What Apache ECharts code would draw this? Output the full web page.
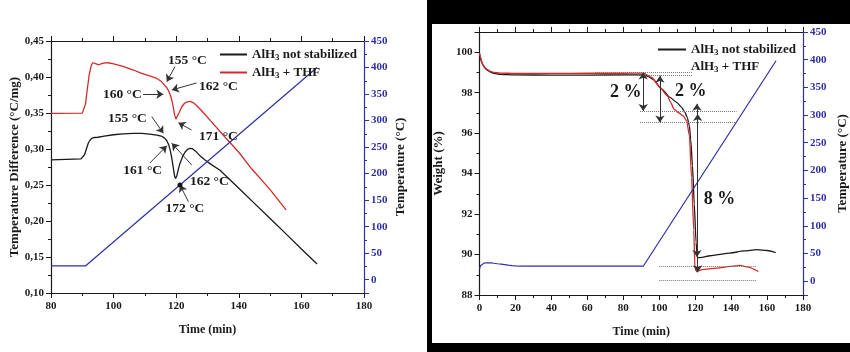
<!DOCTYPE html>
<html>
<head>
<meta charset="utf-8">
<script src="https://cdn.jsdelivr.net/npm/echarts@6/dist/echarts.min.js"></script>
<style>
  html, body { margin:0; padding:0; background:#fff; }
  #frame { position:absolute; left:427px; top:0; width:423px; height:352px; background:#000; }
  #inner { position:absolute; left:432px; top:24px; width:418px; height:319px; background:#fff; }
  #chart { position:absolute; left:0; top:0; width:850px; height:352px; }
</style>
</head>
<body>
<div id="frame"></div>
<div id="inner"></div>
<div id="chart"></div>
<script>
// ---------- DATA ----------
// DSC (left panel): time (min) vs temperature difference (°C/mg)
const dscNotStabilized = [
  [80,0.285],[89.6,0.2862],[90.2,0.2875],[90.7,0.292],[91.3,0.300],[91.9,0.308],[92.5,0.3125],
  [93.2,0.3152],[94,0.316],[95,0.3163],[97,0.3178],[100,0.3198],[103,0.321],[106.3,0.3218],
  [109,0.3216],[111.5,0.3207],[113.8,0.3194],[115.2,0.318],[116.2,0.3155],[117,0.3115],
  [117.6,0.306],[118.1,0.298],[118.6,0.287],[119.1,0.273],[119.5,0.262],[119.8,0.259],
  [120.2,0.263],[120.7,0.272],[121.2,0.28],[122,0.289],[122.8,0.2955],[123.6,0.2995],
  [124.4,0.3008],[125.2,0.3005],[126.2,0.297],[127.6,0.2905],[129,0.2855],[131,0.279],
  [134,0.2705],[140,0.2455],[145,0.2245],[150,0.2035],[155,0.1825],[160,0.1612],[165,0.1403]
];
const dscTHF = [
  [80,0.3496],[90,0.3498],[90.5,0.352],[91,0.362],[91.6,0.383],[92.2,0.403],[92.8,0.415],
  [93.3,0.4198],[93.7,0.4203],[94.2,0.4185],[94.7,0.4168],[95.3,0.417],[96.2,0.4185],
  [97.2,0.4197],[98.2,0.4198],[100,0.4183],[103,0.4148],[106.3,0.4097],[109,0.405],
  [112,0.401],[113.8,0.398],[115.2,0.394],[116.2,0.389],[117,0.385],[117.6,0.3805],
  [118.2,0.374],[118.7,0.366],[119.1,0.357],[119.5,0.347],[119.9,0.3415],[120.4,0.3435],
  [121,0.351],[121.7,0.358],[122.6,0.3632],[123.5,0.3655],[124.4,0.366],[125.4,0.3645],
  [126.5,0.3605],[127.6,0.3555],[129,0.349],[131,0.339],[135,0.3195],[140,0.2955],
  [144.1,0.2725],[150,0.2435],[155.1,0.2155]
];
const dscTemperature = [[80,26],[91,26],[165,400]];

// TGA (right panel): time (min) vs weight (%)
const tgaNotStabilized = [
  [0,99.92],[0.5,99.72],[1.2,99.5],[2,99.35],[3,99.22],[4,99.13],[5.8,99.03],[8,98.96],
  [11.4,98.91],[20,98.88],[40,98.87],[60,98.87],[80,98.88],[91.2,98.88],[94,98.8],[96.7,98.65],
  [101.4,98.18],[106,97.77],[109.7,97.52],[112.5,97.27],[114.4,97.02],[115.6,96.77],[116.8,96.36],
  [117.5,95.7],[118.5,94.4],[119.5,92.5],[120.5,90.6],[121.2,89.85],[123,89.85],[128.3,89.94],
  [139.4,90.07],[147,90.18],[154.3,90.24],[160,90.2],[164.8,90.1]
];
const tgaTHF = [
  [0,99.95],[0.5,99.78],[1.2,99.55],[2,99.38],[3,99.25],[4,99.16],[5.8,99.07],[8,99.0],
  [11.4,98.97],[20,98.95],[40,98.95],[60,98.96],[80,98.96],[91.2,98.97],[95.8,98.76],
  [100.4,98.26],[104.5,97.85],[106.4,97.52],[108.2,97.19],[110.6,97.02],[113.4,96.85],
  [115.3,96.6],[116.8,95.86],[118.0,93.8],[119.2,91.2],[119.9,89.3],[120.9,89.16],
  [123.6,89.25],[132,89.33],[139.4,89.41],[145,89.46],[149.6,89.38],[155.2,89.16]
];
const tgaTemperature = [
  [0,22],[0.3,25.5],[0.6,28],[1,30],[1.5,31.5],[2.5,32.6],[4,33.2],[5,33.3],[6.5,33],[8,32.3],
  [10,31.4],[12,30.6],[14,29.8],[16,28.8],[18,28],[20,27.5],[23,27.3],[91.2,27.3],[165,398]
];

// annotation texts
const dscLabelTexts = ['155 °C','162 °C','160 °C','171 °C','155 °C','161 °C','162 °C','172 °C'];
const tgaLabelTexts = ['2 %','2 %','8 %'];
const seriesNames = ['AlH3 not stabilized','AlH3 + THF'];

// ---------- STYLE ----------
const FONT = "'Liberation Serif','Times New Roman',serif";
const INK = '#1a1a1a';
const BLUE = '#2f2fa8';
const RED = '#d42a2a';

function xAx(grid, min, max, interval, top) {
  return {
    type:'value', gridIndex:grid, min:min, max:max, interval:interval,
    position: top ? 'top' : 'bottom',
    axisLine:{show:true, onZero:false, lineStyle:{color:INK, width:1.2}},
    axisTick:{show:true, inside:false, length:5, lineStyle:{color:INK, width:1}},
    minorTick:{show:true, splitNumber:2, length:3, lineStyle:{color:INK, width:1}},
    axisLabel:{show:!top, color:INK, fontFamily:FONT, fontWeight:'bold', fontSize:11, margin:8},
    splitLine:{show:false}, minorSplitLine:{show:false},
    name: top ? '' : 'Time (min)', nameLocation:'middle', nameGap:31,
    nameTextStyle:{color:INK, fontFamily:FONT, fontWeight:'bold', fontSize:12}
  };
}
function yAx(grid, min, max, interval, right, name, fmt, nameGap, color, inverse) {
  const c = color || INK;
  return {
    type:'value', gridIndex:grid, min:min, max:max, interval:interval, inverse:!!inverse,
    position: right ? 'right' : 'left',
    axisLine:{show:true, onZero:false, lineStyle:{color:c, width:1.2}},
    axisTick:{show:true, inside:false, length:5, lineStyle:{color:c, width:1}},
    minorTick:{show:true, splitNumber:2, length:3, lineStyle:{color:c, width:1}},
    axisLabel:{color:c, fontFamily:FONT, fontWeight:'bold', fontSize:11, margin:7, formatter:fmt},
    splitLine:{show:false}, minorSplitLine:{show:false},
    name:name, nameLocation:'middle', nameGap:nameGap, nameRotate:90,
    nameTextStyle:{color:INK, fontFamily:FONT, fontWeight:'bold', fontSize:13}
  };
}
// hidden value axis used only for plotting temperature (°C)
function hiddenTempAx(grid) {
  return {type:'value', gridIndex:grid, min:-25, max:450, position:'right', show:false,
          axisLine:{show:false}, axisTick:{show:false}, axisLabel:{show:false}, splitLine:{show:false}};
}

const commaFmt = v => v.toFixed(2).replace('.', ',');
// display axis is inverted (0 at top = 450 °C), so label = 450 - v
const tempFmt = v => (v <= 450 + 1e-6) ? String(Math.round(450 - v)) : '';
const wFmt = v => (v <= 100 && Math.abs(v % 2) < 1e-6) ? String(v) : '';

const lbl = (size) => ({color:INK, fontFamily:FONT, fontWeight:'bold', fontSize:size});

// annotation geometry (data coords)
const dscArrows = [
  [[119.6,0.4143],[117.0,0.3935]],
  [[126.5,0.3917],[118.6,0.382]],
  [[109.4,0.376],[115.9,0.376]],
  [[124.9,0.3264],[120.7,0.3365]],
  [[112.2,0.3449],[115.9,0.3218]],
  [[111.6,0.2806],[117.0,0.3046]],
  [[124.95,0.2778],[118.6,0.3079]],
  [[123.9,0.2268],[121.2,0.25]]
];
const dscLabelAt = [
  [[123.6,0.4227],'center'],[[127.3,0.3865],'left'],[[109.0,0.376],'right'],[[127.3,0.318],'left'],
  [[110.6,0.3417],'right'],[[109.3,0.2708],'center'],[[124.4,0.2546],'left'],[[122.8,0.2167],'center']
];
const tgaDotted = [
  [[64.3,99.0],[118.2,99.0]],[[64.3,98.84],[118.2,98.84]],
  [[89.3,97.1],[143,97.1]],[[89.3,96.53],[143,96.53]],
  [[100,89.44],[153.9,89.44]],[[100,88.71],[153.9,88.71]]
];
const tgaArrows = [
  [[91.1,99.0],[91.1,97.1]],[[100.4,98.84],[100.4,96.53]],
  [[121.0,97.45],[121.0,89.88]],[[121.4,96.95],[121.4,89.12]]
];
const tgaLabelAt = [[81.4,98.01],[117.6,98.09],[133.6,92.75]];

const legendRich = {s:{fontSize:9, fontFamily:FONT, fontWeight:'bold', color:INK, padding:[6,0,0,0]}};
const legendFmt = n => n.replace('AlH3', 'AlH{s|3}');

const option = {
  animation:false,
  backgroundColor:'transparent',
  grid:[
    {left:51, right:486, top:41, bottom:59, containLabel:false, outerBoundsMode:'none'},
    {left:479.5, right:47, top:32, bottom:57, containLabel:false, outerBoundsMode:'none'}
  ],
  legend:[
    {orient:'vertical', left:215, top:43, itemWidth:27, itemHeight:2, itemGap:4, icon:'rect',
     data:seriesNames, formatter:legendFmt, selectedMode:false,
     textStyle:Object.assign(lbl(13), {rich:legendRich})},
    {orient:'vertical', left:653, top:38, itemWidth:28, itemHeight:2, itemGap:3, icon:'rect',
     data:[{name:seriesNames[0]},{name:seriesNames[1], itemStyle:{opacity:0}}],
     formatter:legendFmt, selectedMode:false,
     textStyle:Object.assign(lbl(13), {rich:legendRich})}
  ],
  xAxis:[
    xAx(0,80,180,20,false), xAx(0,80,180,20,true),
    xAx(1,0,180,20,false), xAx(1,0,180,20,true)
  ],
  yAxis:[
    yAx(0,0.10,0.45,0.05,false,'Temperature Difference (°C/mg)',commaFmt,27),
    hiddenTempAx(0),
    yAx(1,88,101,2,false,'Weight (%)',wFmt,34),
    hiddenTempAx(1),
    yAx(0,0,475,50,true,'Temperature (°C)',tempFmt,30,BLUE,true),
    yAx(1,0,475,50,true,'Temperature (°C)',tempFmt,33,BLUE,true)
  ],
  series:[
    {name:seriesNames[0], type:'line', xAxisIndex:0, yAxisIndex:0, data:dscNotStabilized,
     showSymbol:false, symbol:'none', lineStyle:{color:INK, width:1.3}, itemStyle:{color:INK}},
    {name:seriesNames[1], type:'line', xAxisIndex:0, yAxisIndex:0, data:dscTHF,
     showSymbol:false, symbol:'none', lineStyle:{color:RED, width:1.3}, itemStyle:{color:RED}},
    {name:'T_dsc', type:'line', xAxisIndex:0, yAxisIndex:1, data:dscTemperature,
     showSymbol:false, symbol:'none', lineStyle:{color:BLUE, width:1.2}, itemStyle:{color:BLUE}},
    {name:'annDSC', type:'line', xAxisIndex:0, yAxisIndex:0, data:[], silent:true,
     markLine:{silent:true, symbol:['none','arrow'], symbolSize:7, animation:false,
       label:{show:false}, lineStyle:{color:'#333', width:1, type:'solid'},
       data: dscArrows.map(a => [{coord:a[0]},{coord:a[1]}])},
     markPoint:{silent:true, animation:false,
       data: dscLabelAt.map((p,i) => ({coord:p[0], symbol:'circle', symbolSize:1, itemStyle:{color:'transparent'},
         label:Object.assign({show:true, position:'inside', align:p[1], verticalAlign:'middle',
           formatter:dscLabelTexts[i]}, lbl(13.5))})).concat([
         {coord:[121.2,0.25], symbol:'circle', symbolSize:5, itemStyle:{color:'#111'}, label:{show:false}}
       ])}
    },
    {name:seriesNames[0], type:'line', xAxisIndex:2, yAxisIndex:2, data:tgaNotStabilized,
     showSymbol:false, symbol:'none', smooth:0.2, smoothMonotone:'x', lineStyle:{color:INK, width:1.3}, itemStyle:{color:INK}, z:2},
    {name:seriesNames[1], type:'line', xAxisIndex:2, yAxisIndex:2, data:tgaTHF,
     showSymbol:false, symbol:'none', smooth:0.2, smoothMonotone:'x', lineStyle:{color:RED, width:1.3}, itemStyle:{color:RED}, z:3},
    {name:'T_tga', type:'line', xAxisIndex:2, yAxisIndex:3, data:tgaTemperature,
     showSymbol:false, symbol:'none', lineStyle:{color:BLUE, width:1.2}, itemStyle:{color:BLUE}},
    {name:'annTGA1', type:'line', xAxisIndex:2, yAxisIndex:2, data:[], silent:true,
     markLine:{silent:true, symbol:['none','none'], animation:false, label:{show:false},
       lineStyle:{color:'#777', width:1, type:'dotted'},
       data: tgaDotted.map(a => [{coord:a[0]},{coord:a[1]}])},
     markPoint:{silent:true, animation:false,
       data: tgaLabelAt.map((p,i) => ({coord:p, symbol:'circle', symbolSize:1, itemStyle:{color:'transparent'},
         label:Object.assign({show:true, position:'inside', align:'center', verticalAlign:'middle',
           formatter:tgaLabelTexts[i]}, lbl(18))}))}
    },
    {name:'annTGA2', type:'line', xAxisIndex:2, yAxisIndex:2, data:[], silent:true,
     markLine:{silent:true, symbol:['arrow','arrow'], symbolSize:7, animation:false, label:{show:false},
       lineStyle:{color:'#333', width:1, type:'solid'},
       data: tgaArrows.map(a => [{coord:a[0]},{coord:a[1]}])}
    }
  ]
};

const chart = echarts.init(document.getElementById('chart'), null, {renderer:'canvas'});
chart.setOption(option);
</script>
</body>
</html>
